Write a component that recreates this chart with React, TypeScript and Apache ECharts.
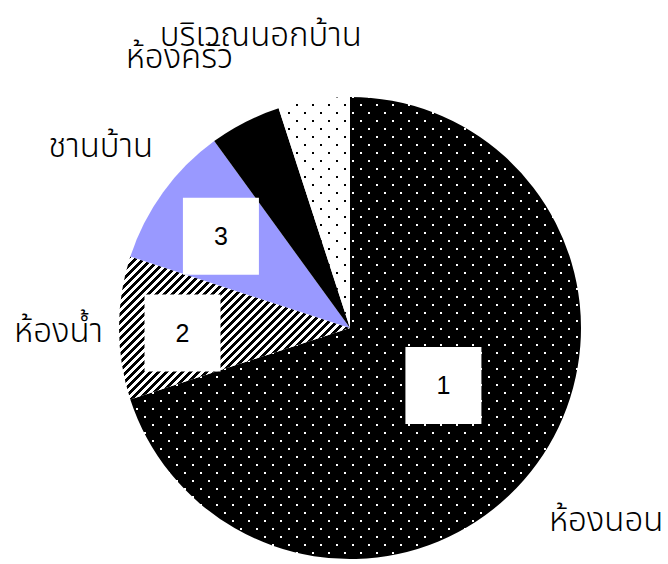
import React, { useEffect, useRef } from "react";
import * as echarts from "echarts";

const categories = ["ห้องนอน", "ห้องน้ำ", "ชานบ้าน", "ห้องครัว", "บริเวณนอกบ้าน"];
const values = [70, 10, 10, 5, 5];
const sliceNumbers = ["1", "2", "3", "", ""];

// label nudges (dx, dy) for the outside names and the inside numbers
const nameNudges = [
  [7, 57],
  [-11, 4],
  [-5, -45],
  [-7, -64],
  [53, -64],
];
const numberNudges = [
  [2, -9],
  [-3, 5],
  [4, 5],
  [0, 0],
  [0, 0],
];

function makeTile(kind: string): HTMLCanvasElement {
  const c = document.createElement("canvas");
  const ctx = c.getContext("2d")!;
  if (kind === "darkDots" || kind === "lightDots") {
    c.width = 16;
    c.height = 16;
    ctx.fillStyle = kind === "darkDots" ? "#000" : "#fff";
    ctx.fillRect(0, 0, 16, 16);
    ctx.fillStyle = kind === "darkDots" ? "#fff" : "#000";
    ctx.fillRect(0, 0, 2, 2);
    ctx.fillRect(8, 8, 2, 2);
  } else {
    c.width = 8;
    c.height = 8;
    ctx.fillStyle = "#fff";
    ctx.fillRect(0, 0, 8, 8);
    ctx.fillStyle = "#000";
    for (let y = 0; y < 8; y++) {
      for (let x = 0; x < 8; x++) {
        if ((x + y) % 8 < 4) ctx.fillRect(x, y, 1, 1);
      }
    }
  }
  return c;
}

export default function App() {
  const ref = useRef<HTMLDivElement>(null);
  useEffect(() => {
    if (!ref.current) return;
    const chart = echarts.init(ref.current, undefined, { renderer: "svg" });
    const fills: any[] = [
      { image: makeTile("darkDots"), repeat: "repeat" },
      { image: makeTile("stripes"), repeat: "repeat" },
      "#9999ff",
      "#000000",
      { image: makeTile("lightDots"), repeat: "repeat" },
    ];
    const center = [350, 328];
    const R = 231;
    const mainData = categories.map((name, i) => ({
      name,
      value: values[i],
      itemStyle: { color: fills[i] },
    }));
    const numberData = (show: number[]) =>
      categories.map((name, i) => ({
        name,
        value: values[i],
        label: { show: show.includes(i) && sliceNumbers[i] !== "" },
      }));
    const numberLabel = {
      position: "inside",
      formatter: (p: any) => sliceNumbers[p.dataIndex],
      color: "#000",
      fontFamily: "'Liberation Sans', Arial, sans-serif",
      fontSize: 25,
      backgroundColor: "#fff",
      width: 76,
      height: 77,
      lineHeight: 77,
      align: "center",
      verticalAlign: "middle",
      padding: 0,
    };
    chart.setOption({
      animation: false,
      series: [
        {
          type: "pie",
          center,
          radius: [0, R],
          startAngle: 90,
          clockwise: true,
          avoidLabelOverlap: false,
          silent: true,
          data: mainData,
          itemStyle: { borderWidth: 0 },
          label: {
            show: true,
            position: "outside",
            formatter: "{b}",
            color: "#000",
            fontSize: 33,
            fontWeight: 300,
            fontFamily: "'Noto Sans Thai', Tahoma, 'Noto Sans', sans-serif",
            distanceToLabelLine: 5,
          },
          labelLine: { show: false, length: 0, length2: 0 },
          labelLayout: (p: any) => ({
            dx: nameNudges[p.dataIndex][0],
            dy: nameNudges[p.dataIndex][1],
          }),
        },
        {
          type: "pie",
          center,
          radius: [0, 220],
          startAngle: 90,
          clockwise: true,
          silent: true,
          avoidLabelOverlap: false,
          itemStyle: { color: "transparent" },
          data: numberData([0]),
          label: numberLabel,
          labelLine: { show: false },
          labelLayout: (p: any) => ({
            dx: numberNudges[p.dataIndex][0],
            dy: numberNudges[p.dataIndex][1],
          }),
        },
        {
          type: "pie",
          center,
          radius: [92, R],
          startAngle: 90,
          clockwise: true,
          silent: true,
          avoidLabelOverlap: false,
          itemStyle: { color: "transparent" },
          data: numberData([1, 2]),
          label: numberLabel,
          labelLine: { show: false },
          labelLayout: (p: any) => ({
            dx: numberNudges[p.dataIndex][0],
            dy: numberNudges[p.dataIndex][1],
          }),
        },
      ],
    });
    return () => chart.dispose();
  }, []);
  return (
    <div
      ref={ref}
      style={{ position: "fixed", left: 0, top: 0, width: 668, height: 564, background: "#fff" }}
    />
  );
}
